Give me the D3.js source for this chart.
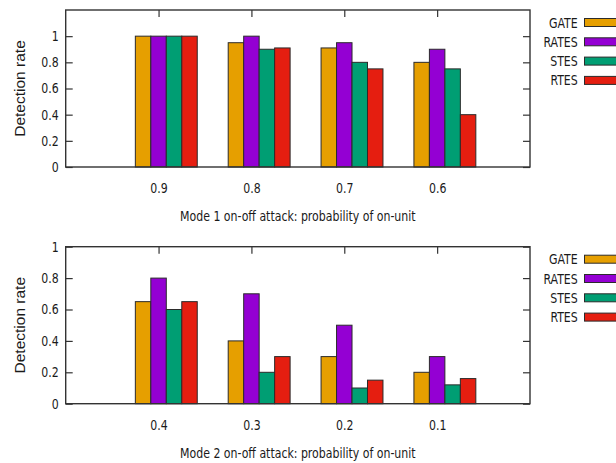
<!DOCTYPE html>
<html>
<head>
<meta charset="utf-8">
<script src="https://cdn.jsdelivr.net/npm/d3@7"></script>
<style>
  html, body { margin: 0; padding: 0; background: #fff; }
  svg { display: block; }
  .lbl { font-family: "DejaVu Sans Condensed", "DejaVu Sans", sans-serif; font-stretch: condensed; font-size: 14px; fill: #1a1a1a; }
  .ylab { font-family: "Liberation Sans", Arial, sans-serif; font-size: 15.5px; fill: #1a1a1a; }
</style>
</head>
<body>
<svg id="chart" width="616" height="463"></svg>
<script>
// Methods compared in both panels
const series = ["GATE", "RATES", "STES", "RTES"];
const seriesColors = ["#e69f00", "#9400d3", "#009e73", "#e51e10"];

// Mode 1 on-off attack
const mode1Categories = ["0.9", "0.8", "0.7", "0.6"];
const mode1GATE  = [1.00, 0.95, 0.91, 0.80];
const mode1RATES = [1.00, 1.00, 0.95, 0.90];
const mode1STES  = [1.00, 0.90, 0.80, 0.75];
const mode1RTES  = [1.00, 0.91, 0.75, 0.40];

// Mode 2 on-off attack
const mode2Categories = ["0.4", "0.3", "0.2", "0.1"];
const mode2GATE  = [0.65, 0.40, 0.30, 0.20];
const mode2RATES = [0.80, 0.70, 0.50, 0.30];
const mode2STES  = [0.60, 0.20, 0.10, 0.12];
const mode2RTES  = [0.65, 0.30, 0.15, 0.16];

const yTickValues = [0, 0.2, 0.4, 0.6, 0.8, 1];
const yTickLabels = ["0", "0.2", "0.4", "0.6", "0.8", "1"];

const panels = [
  { categories: mode1Categories, values: [mode1GATE, mode1RATES, mode1STES, mode1RTES],
    yMax: 1.2, top: 10, xlabel: "Mode 1 on-off attack: probability of on-unit" },
  { categories: mode2Categories, values: [mode2GATE, mode2RATES, mode2STES, mode2RTES],
    yMax: 1.0, top: 246.7, xlabel: "Mode 2 on-off attack: probability of on-unit" }
];

const svg = d3.select("#chart");
const left = 65.7, right = 530, plotH = 157;
const sx = 0.87;          // horizontal squeeze for the condensed label face
const tickLen = 7;
const barW = 1 / 6;       // clustered histogram: 4 bars + gap of 2

panels.forEach(p => {
  const bottom = p.top + plotH;
  const x = d3.scaleLinear().domain([-1, 4]).range([left, right]);
  const y = d3.scaleLinear().domain([0, p.yMax]).range([bottom, p.top]);
  const g = svg.append("g");
  const idx = d3.range(p.categories.length);

  // tick marks (inward on all four sides)
  const axes = [
    { ax: d3.axisLeft(y).tickValues(yTickValues).tickFormat((d, i) => yTickLabels[i]).tickSize(-tickLen).tickPadding(8), tr: `translate(${left},0)`, labels: true },
    { ax: d3.axisRight(y).tickValues(yTickValues).tickFormat("").tickSize(-tickLen), tr: `translate(${right},0)` },
    { ax: d3.axisTop(x).tickValues(idx).tickFormat("").tickSize(-tickLen), tr: `translate(0,${p.top})` },
    { ax: d3.axisBottom(x).tickValues(idx).tickFormat(i => p.categories[i]).tickSize(-tickLen).tickPadding(16), tr: `translate(0,${bottom})`, labels: true }
  ];
  axes.forEach(a => {
    const ag = g.append("g").attr("transform", a.tr).call(a.ax.tickSizeOuter(0));
    ag.select(".domain").remove();
    ag.selectAll(".tick line").attr("stroke", "#333").attr("stroke-width", 1.2);
    ag.selectAll(".tick text").attr("class", "lbl").attr("font-size", null).attr("font-family", null)
      .attr("transform", `scale(${sx},1)`);
  });
  g.selectAll("g").attr("font-size", null).attr("font-family", null);

  // bars
  series.forEach((s, j) => {
    g.append("g").selectAll("rect")
      .data(p.values[j])
      .join("rect")
      .attr("x", (d, i) => x(i + (j - 1) * barW - barW / 2))
      .attr("width", (d, i) => x(i + (j - 1) * barW + barW / 2) - x(i + (j - 1) * barW - barW / 2))
      .attr("y", d => y(d))
      .attr("height", d => y(0) - y(d))
      .attr("fill", seriesColors[j])
      .attr("stroke", "#2b2b2b")
      .attr("stroke-width", 1);
  });

  // border
  g.append("rect")
    .attr("x", left).attr("y", p.top)
    .attr("width", right - left).attr("height", plotH)
    .attr("fill", "none").attr("stroke", "#333").attr("stroke-width", 1.4);

  // axis titles
  const cx = (left + right) / 2;
  g.append("text").attr("class", "lbl")
    .attr("text-anchor", "middle")
    .attr("transform", `translate(${cx},${bottom + 54}) scale(${sx},1)`)
    .text(p.xlabel);
  g.append("text").attr("class", "ylab")
    .attr("text-anchor", "middle")
    .attr("transform", `translate(25,${(p.top + bottom) / 2}) rotate(-90)`)
    .text("Detection rate");

  // legend
  const lg = g.append("g");
  series.forEach((s, j) => {
    const cy = p.top + 12.5 + j * 19.3;
    lg.append("text").attr("class", "lbl")
      .attr("text-anchor", "end")
      .attr("transform", `translate(577.7,${cy + 5}) scale(${sx},1)`)
      .text(s);
    lg.append("rect")
      .attr("x", 584.5).attr("y", cy - 4)
      .attr("width", 40).attr("height", 8)
      .attr("fill", seriesColors[j])
      .attr("stroke", "#2b2b2b").attr("stroke-width", 1);
  });
});
</script>
</body>
</html>
